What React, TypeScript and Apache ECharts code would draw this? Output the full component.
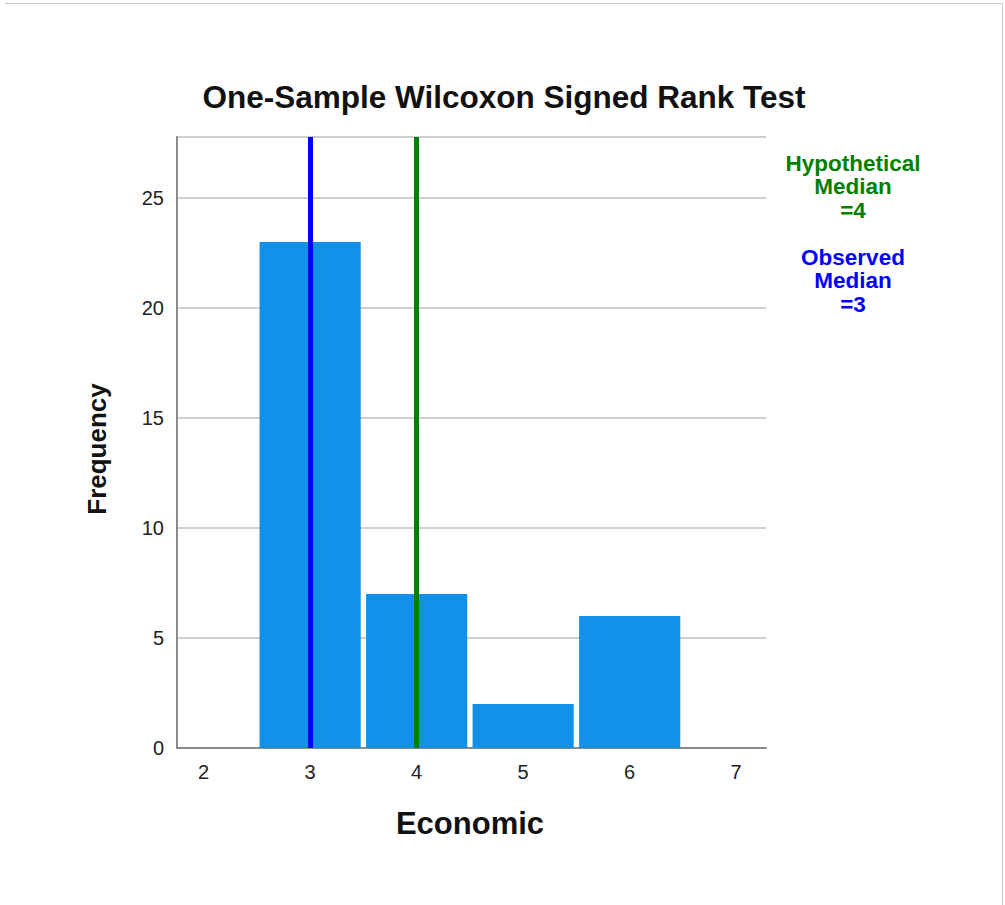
import React, { useEffect, useRef } from "react";
import * as echarts from "echarts";

const binCenters = [3, 4, 5, 6];
const frequencies = [23, 7, 2, 6];
const xTickValues = [2, 3, 4, 5, 6, 7];
const observedMedian = 3;
const hypotheticalMedian = 4;
const titleText = "One-Sample Wilcoxon Signed Rank Test";
const xName = "Economic";
const yName = "Frequency";
const hypLines = ["Hypothetical", "Median", "=" + hypotheticalMedian];
const obsLines = ["Observed", "Median", "=" + observedMedian];

const FONT = "'Liberation Sans', Arial, Helvetica, sans-serif";

export default function App() {
  const ref = useRef<HTMLDivElement>(null);
  useEffect(() => {
    if (!ref.current) return;
    const chart = echarts.init(ref.current, null, { renderer: "svg" });
    const data = binCenters.map((c, i) => [c, frequencies[i]]);
    const stack = (lines: string[], y0: number, color: string) =>
      lines.map((t, i) => ({
        type: "text",
        x: 853,
        y: y0 + i * 23.5,
        style: { text: t, font: `bold 22.5px ${FONT}`, fill: color, align: "center", verticalAlign: "middle" },
      }));
    chart.setOption({
      animation: false,
      backgroundColor: "#ffffff",
      grid: { left: 177, top: 137, right: 239, bottom: 157, containLabel: false },
      xAxis: {
        type: "value",
        min: 1.75,
        max: 7.28,
        axisLine: { show: true, onZero: false, lineStyle: { color: "#8a8a8a", width: 2 } },
        axisTick: { show: false },
        splitLine: { show: false },
        axisLabel: {
          customValues: xTickValues,
          color: "#222",
          fontSize: 20,
          fontFamily: FONT,
          margin: 14,
        },
      },
      yAxis: {
        type: "value",
        min: 0,
        max: 27.77,
        interval: 5,
        axisLine: { show: true, lineStyle: { color: "#8a8a8a", width: 2 } },
        axisTick: { show: false },
        splitLine: { show: true, lineStyle: { color: "#cfcfcf", width: 2 } },
        axisLabel: {
          color: "#222",
          fontSize: 20,
          fontFamily: FONT,
          margin: 13,
          showMaxLabel: false,
        },
      },
      series: [
        {
          type: "custom",
          data,
          renderItem: (params: any, api: any) => {
            const x = api.value(0);
            const y = api.value(1);
            const p0 = api.coord([x - 0.475, y]);
            const p1 = api.coord([x + 0.475, 0]);
            return {
              type: "rect",
              shape: { x: p0[0], y: p0[1], width: p1[0] - p0[0], height: p1[1] - p0[1] },
              style: { fill: "#1192e8" },
            };
          },
          z: 2,
        },
        {
          type: "line",
          data: [],
          markLine: {
            silent: true,
            symbol: ["none", "none"],
            label: { show: false },
            z: 5,
            data: [
              { xAxis: observedMedian, lineStyle: { color: "#0000ff", width: 5, type: "solid" } },
              { xAxis: hypotheticalMedian, lineStyle: { color: "#008000", width: 5, type: "solid" } },
            ],
          },
        },
      ],
      graphic: [
        { type: "line", shape: { x1: 5, y1: 3.5, x2: 1002.5, y2: 3.5 }, style: { stroke: "#c8c8c8", lineWidth: 1 } },
        { type: "line", shape: { x1: 1002.5, y1: 3.5, x2: 1002.5, y2: 905 }, style: { stroke: "#c8c8c8", lineWidth: 1 } },
        {
          type: "text",
          x: 504,
          y: 97,
          style: { text: titleText, font: `bold 31.5px ${FONT}`, fill: "#111", align: "center", verticalAlign: "middle" },
        },
        {
          type: "text",
          x: 470,
          y: 823,
          style: { text: xName, font: `bold 31px ${FONT}`, fill: "#111", align: "center", verticalAlign: "middle" },
        },
        {
          type: "text",
          x: 97,
          y: 449,
          rotation: Math.PI / 2,
          style: { text: yName, font: `bold 26px ${FONT}`, fill: "#111", align: "center", verticalAlign: "middle" },
        },
        ...stack(hypLines, 163, "#008000"),
        ...stack(obsLines, 257, "#0000ff"),
      ],
    });
    return () => chart.dispose();
  }, []);
  return (
    <div
      ref={ref}
      style={{ position: "absolute", left: 0, top: 0, width: 1005, height: 905, background: "#fff" }}
    />
  );
}
